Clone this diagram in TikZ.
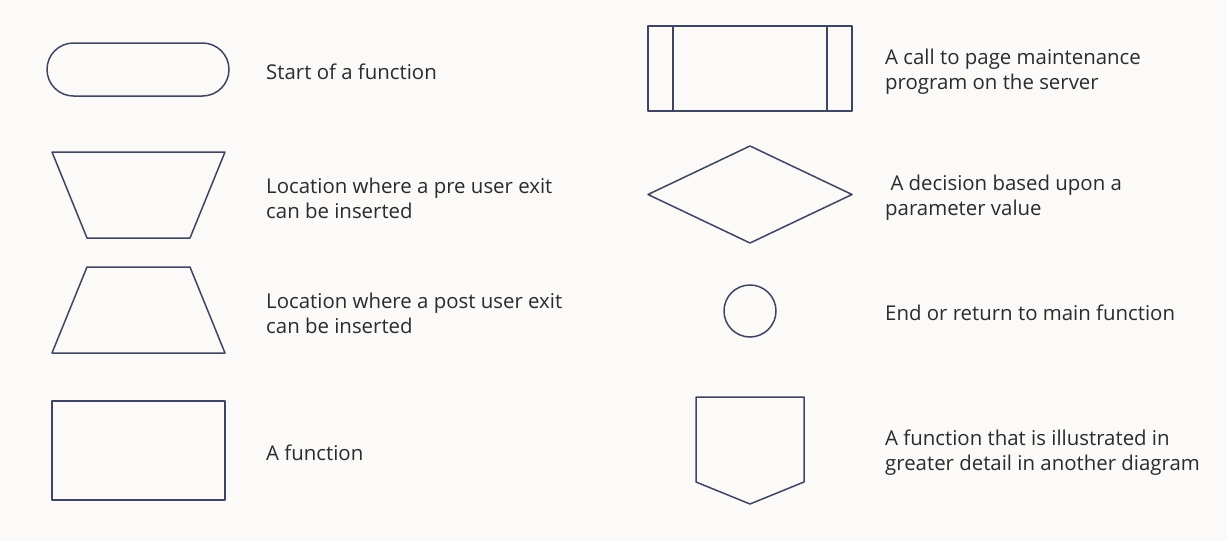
\documentclass[tikz,border=0pt]{standalone}
\usepackage{fontspec}
\setmainfont{Open Sans}
\definecolor{bgcol}{HTML}{FBFAF9}
\definecolor{linecol}{HTML}{3F4560}
\definecolor{txtcol}{HTML}{2B2B2B}
\tikzset{
  sym/.style={draw=linecol,line width=1.5pt,line join=round},
  lbl/.style={anchor=west,align=left,inner sep=0pt,text=txtcol,
    font=\fontsize{20.4}{25}\selectfont}
}
\begin{document}
\begin{tikzpicture}[x=1pt,y=-1pt]
  \fill[bgcol] (0,0) rectangle (1227,541);
  \useasboundingbox (0,0) rectangle (1227,541);
  % left column
  \draw[sym,rounded corners=26.5pt] (47,43) rectangle (229,96);
  \node[lbl] (start) at (266,72) {Start of a function};
  \draw[sym] (52,152) -- (225,152) -- (190,238) -- (87,238) -- cycle;
  \node[lbl] (preexit) at (266,198) {Location where a pre user exit\\can be inserted};
  \draw[sym] (87,267) -- (190,267) -- (225,353) -- (52,353) -- cycle;
  \node[lbl] (postexit) at (266,313) {Location where a post user exit\\can be inserted};
  \draw[sym] (52,401) rectangle (225,500);
  \node[lbl] (func) at (266,453) {A function};
  % right column
  \draw[sym] (648,26) rectangle (852,111);
  \draw[sym] (673,26) -- (673,111);
  \draw[sym] (827,26) -- (827,111);
  \node[lbl] (call) at (885,72) {A call to page maintenance\\program on the server};
  \draw[sym] (648,194.5) -- (750,146) -- (852,194.5) -- (750,243) -- cycle;
  \node[lbl] (decide) at (885,198) {\ A decision based upon a\\parameter value};
  \draw[sym] (750,311) circle[radius=26];
  \node[lbl] (finish) at (885,313) {End or return to main function};
  \draw[sym] (696,397) -- (804,397) -- (804,482) -- (750,504) -- (696,482) -- cycle;
  \node[lbl] (detail) at (885,453) {A function that is illustrated in\\greater detail in another diagram};
\end{tikzpicture}
\end{document}
